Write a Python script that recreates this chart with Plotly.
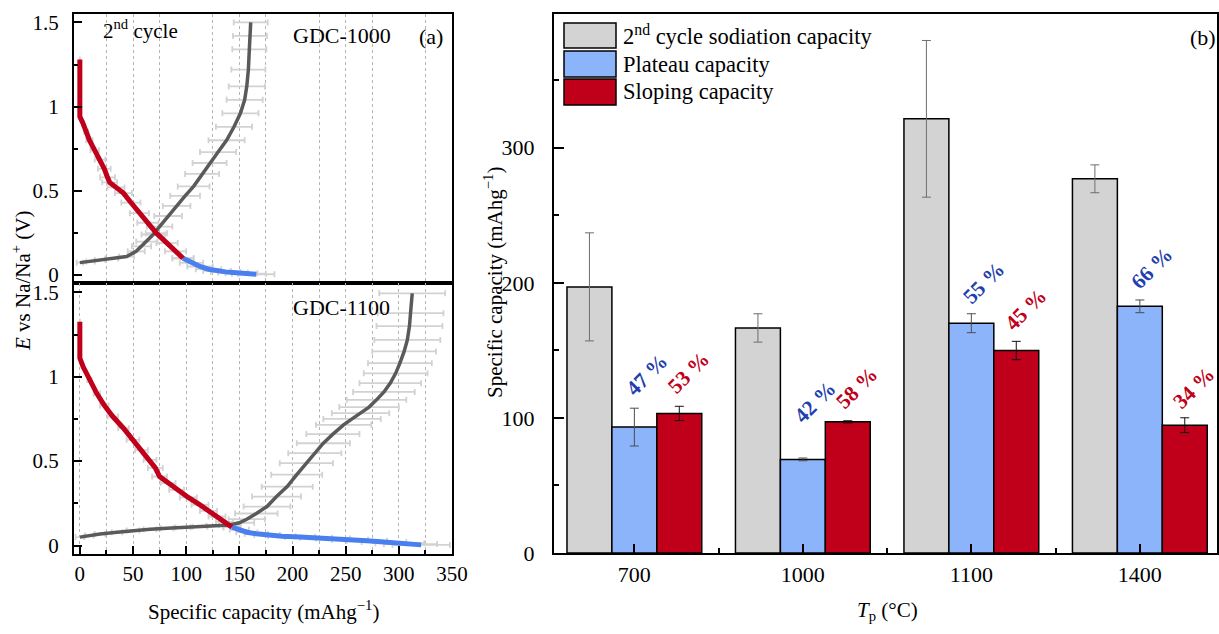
import plotly.graph_objects as go

# ---------------- data: (a) galvanostatic profiles, 2nd cycle ----------------
# GDC-1000, discharge: sloping region (red) and plateau region (blue)
gdc1000_slope_cap = [0, 0, 0, 3, 6, 9, 14, 19, 23, 26, 28, 34, 41, 48, 56, 64, 72, 82, 90, 97]
gdc1000_slope_v = [1.28, 1.10, 0.94, 0.90, 0.85, 0.80, 0.74, 0.685, 0.63, 0.58, 0.55, 0.52,
                   0.486, 0.43, 0.367, 0.31, 0.248, 0.189, 0.14, 0.099]
gdc1000_slope_err = [0, 0, 0, 1, 2, 3, 4, 5, 6, 7, 7, 8, 8, 9, 9, 10, 10, 10, 10, 10]
gdc1000_plat_cap = [97, 105, 113, 121, 129, 137, 144, 152, 159, 166]
gdc1000_plat_v = [0.099, 0.072, 0.05, 0.034, 0.024, 0.018, 0.014, 0.010, 0.007, 0.004]
gdc1000_plat_err = [10, 11, 12, 12, 13, 14, 14, 15, 16, 17]
# GDC-1000, charge
gdc1000_chg_cap = [0, 10, 19, 30, 44, 53, 58, 63, 69, 75, 83, 91, 99, 107, 115, 122, 130,
                   138, 145, 151, 155, 157, 158.5, 159.4, 160, 160.7]
gdc1000_chg_v = [0.073, 0.08, 0.089, 0.098, 0.109, 0.14, 0.17, 0.198, 0.24, 0.287, 0.35, 0.41,
                 0.47, 0.526, 0.6, 0.665, 0.73, 0.80, 0.88, 0.96, 1.04, 1.12, 1.22, 1.34, 1.42, 1.5]
gdc1000_chg_err = [3, 4, 5, 6, 7, 8, 9, 10, 11, 12, 13, 13, 14, 15, 16, 16, 17, 17, 17, 17,
                   17, 17, 16, 16, 16, 16]

# GDC-1100, discharge
gdc1100_slope_cap = [0, 0, 0, 3, 9, 16, 23, 31, 41, 50, 58, 66, 71, 75, 83, 91, 102, 113,
                     121, 129, 136, 143]
gdc1100_slope_v = [1.326, 1.2, 1.11, 1.06, 0.98, 0.90, 0.83, 0.764, 0.695, 0.626, 0.565, 0.507,
                   0.46, 0.409, 0.37, 0.33, 0.285, 0.241, 0.205, 0.172, 0.14, 0.109]
gdc1100_slope_err = [0, 0, 0, 1, 2, 3, 4, 5, 5, 6, 6, 6, 7, 7, 7, 7, 8, 8, 8, 8, 8, 8]
gdc1100_plat_cap = [143, 150, 157, 166, 176, 190, 207, 222, 238, 254, 270, 286, 301, 311, 321]
gdc1100_plat_v = [0.109, 0.093, 0.079, 0.07, 0.062, 0.055, 0.05, 0.046, 0.042, 0.035, 0.028,
                  0.021, 0.014, 0.009, 0.004]
gdc1100_plat_err = [8, 9, 10, 11, 12, 13, 14, 15, 16, 17, 19, 21, 23, 25, 27]
# GDC-1100, charge
gdc1100_chg_cap = [0, 9, 19, 35, 50, 66, 82, 97, 113, 127, 141, 150, 157, 166, 176, 185, 195,
                   204, 213, 221, 229, 238, 248, 256, 264, 272, 279, 286, 292, 297, 301, 305,
                   308, 310, 311, 312.6]
gdc1100_chg_v = [0.05, 0.06, 0.069, 0.079, 0.089, 0.096, 0.103, 0.108, 0.112, 0.117, 0.122,
                 0.135, 0.156, 0.19, 0.231, 0.29, 0.349, 0.42, 0.488, 0.547, 0.606, 0.66,
                 0.715, 0.75, 0.784, 0.82, 0.863, 0.91, 0.962, 1.02, 1.08, 1.15, 1.218, 1.3,
                 1.376, 1.494]
gdc1100_chg_err = [4, 4, 5, 5, 6, 6, 6, 7, 7, 8, 10, 14, 17, 20, 22, 23, 24, 24, 25, 25, 25,
                   25, 26, 27, 27, 28, 28, 29, 29, 30, 30, 30, 31, 31, 31, 31]

# ---------------- data: (b) capacities vs. pyrolysis temperature ----------------
categories = ["700", "1000", "1100", "1400"]
total_cap = [197, 166.6, 321.4, 277]
total_err = [40, 10.5, 58, 10.3]
plateau_cap = [93.2, 69.3, 170.1, 182.6]
plateau_err = [14, 1, 7, 4.7]
sloping_cap = [103.3, 97.1, 149.9, 94.6]
sloping_err = [5.3, 0.8, 6.8, 5.5]
plateau_pct = [47, 42, 55, 66]
sloping_pct = [53, 58, 45, 34]

# ---------------- styling ----------------
FONT = "Liberation Serif, Times New Roman, serif"
RED = "#c0001a"
BLUE = "#4a7ff0"
DARK = "#5a5a5a"
ERRC = "#d2d2d2"
W, H = 1219, 634


def px_x(p):
    return p / W


def px_y(p):
    return 1 - p / H


fig = go.Figure()


def err_trace(cap, v, err, xa, ya):
    return go.Scatter(
        x=cap, y=v, mode="lines", line=dict(color="rgba(0,0,0,0)", width=0),
        error_x=dict(type="data", array=err, color=ERRC, thickness=1.8, width=3),
        xaxis=xa, yaxis=ya, showlegend=False, hoverinfo="skip")


def line_trace(cap, v, color, width, xa, ya):
    return go.Scatter(x=cap, y=v, mode="lines", line=dict(color=color, width=width),
                      xaxis=xa, yaxis=ya, showlegend=False)


panels = [
    ("x", "y", gdc1000_slope_cap, gdc1000_slope_v, gdc1000_slope_err,
     gdc1000_plat_cap, gdc1000_plat_v, gdc1000_plat_err,
     gdc1000_chg_cap, gdc1000_chg_v, gdc1000_chg_err),
    ("x2", "y2", gdc1100_slope_cap, gdc1100_slope_v, gdc1100_slope_err,
     gdc1100_plat_cap, gdc1100_plat_v, gdc1100_plat_err,
     gdc1100_chg_cap, gdc1100_chg_v, gdc1100_chg_err),
]
for xa, ya, sc, sv, se, pc, pv, pe, cc, cv, ce in panels:
    fig.add_trace(err_trace(cc, cv, ce, xa, ya))
    fig.add_trace(err_trace(sc, sv, se, xa, ya))
    fig.add_trace(err_trace(pc, pv, pe, xa, ya))
for xa, ya, sc, sv, se, pc, pv, pe, cc, cv, ce in panels:
    fig.add_trace(line_trace(cc, cv, DARK, 3.5, xa, ya))
    fig.add_trace(line_trace(pc, pv, BLUE, 5, xa, ya))
    fig.add_trace(line_trace(sc, sv, RED, 5, xa, ya))

# bar chart
xpos = list(range(len(categories)))
bar_specs = [
    ("2nd cycle sodiation capacity", total_cap, total_err, "#d3d3d3", "#6e6e6e"),
    ("Plateau capacity", plateau_cap, plateau_err, "#8cb4fa", "#4d4d4d"),
    ("Sloping capacity", sloping_cap, sloping_err, RED, "#111111"),
]
for name, vals, errs, color, ecol in bar_specs:
    fig.add_trace(go.Bar(
        x=xpos, y=vals, name=name, marker=dict(color=color, line=dict(color="black", width=1.5)),
        error_y=dict(type="data", array=errs, color=ecol, thickness=1, width=4.5),
        xaxis="x3", yaxis="y3", showlegend=False))

# ---------------- axes ----------------
LEFT_DOM = [px_x(74), px_x(452)]
axis_common = dict(showline=True, linecolor="black", linewidth=2, mirror=True,
                   zeroline=False, showgrid=False, automargin=False)
tick_left = dict(family=FONT, size=21, color="black")
tick_right = dict(family=FONT, size=22, color="black")
cap_minor = dict(dtick=25, tick0=0, showgrid=True, griddash="dot", gridcolor="#b5b5b5",
                 gridwidth=1, ticks="inside", ticklen=4, tickcolor="black")
v_axis = dict(tickvals=[0, 0.5, 1, 1.5], ticktext=["0", "0.5", "1", "1.5"],
              ticks="inside", ticklen=8, tickwidth=1.5, tickcolor="black",
              minor=dict(dtick=0.25, tick0=0, ticks="inside", ticklen=4, tickcolor="black"),
              ticklabelstandoff=9, tickfont=tick_left)

fig.update_layout(
    width=W, height=H, margin=dict(l=0, r=0, t=0, b=0, autoexpand=False),
    paper_bgcolor="white", plot_bgcolor="white",
    barmode="group", bargap=0.2, bargroupgap=0,
    font=dict(family=FONT, color="black"),
    xaxis=dict(domain=LEFT_DOM, anchor="y", range=[-5.5, 350], showticklabels=False,
               ticks="", minor=dict(cap_minor, ticks=""), **axis_common),
    yaxis=dict(domain=[px_y(283), px_y(14)], anchor="x", range=[-0.048, 1.55],
               **v_axis, **axis_common),
    xaxis2=dict(domain=LEFT_DOM, anchor="y2", range=[-5.5, 350],
                tickvals=list(range(0, 351, 50)), ticks="inside", ticklen=8, tickwidth=1.5,
                tickcolor="black", minor=cap_minor, ticklabelstandoff=0, tickfont=tick_left,
                **axis_common),
    yaxis2=dict(domain=[px_y(554), px_y(283)], anchor="x2", range=[-0.05, 1.555],
                **v_axis, **axis_common),
    xaxis3=dict(domain=[px_x(554), px_x(1217)], anchor="y3", range=[-0.477, 3.458],
                tickvals=xpos, ticktext=categories, ticks="inside", ticklen=9, tickwidth=2,
                tickcolor="black",
                minor=dict(tickvals=[0.5, 1.5, 2.5], ticks="inside", ticklen=5,
                           tickcolor="black"),
                ticklabelstandoff=1, tickfont=tick_right, **axis_common),
    yaxis3=dict(domain=[px_y(553), px_y(14)], anchor="x3", range=[0, 399],
                tickvals=[0, 100, 200, 300], ticks="inside", ticklen=10, tickwidth=2,
                tickcolor="black",
                minor=dict(tickvals=[50, 150, 250, 350], ticks="inside", ticklen=5,
                           tickcolor="black"),
                ticklabelstandoff=13, tickfont=tick_right, **axis_common),
)

# ---------------- text ----------------
def note(text, x, y, size=22, xanchor="center", **kw):
    fig.add_annotation(text=text, x=px_x(x), y=px_y(y), xref="paper", yref="paper",
                       xanchor=xanchor, yanchor="middle", showarrow=False,
                       font=dict(family=FONT, size=size, color="black"), **kw)


note("2<sup>nd</sup> cycle", 140, 29, size=21)
note("GDC-1000", 342, 36)
note("(a)", 431, 37)
note("GDC-1100", 341, 307)
note("(b)", 1203, 38)
note("<i>E</i> vs Na/Na<sup>+</sup> (V)", 21, 281, size=21, textangle=-90)
note("Specific capacity (mAhg<sup>\u22121</sup>)", 263, 610, size=21)
note("Specific capacity (mAhg<sup>\u22121</sup>)", 493, 283, size=21, textangle=-90)
note("<i>T</i><sub>p</sub> (\u00b0C)", 887, 611, size=21)

# legend drawn as framed swatches with labels
legend_rows = [("2<sup>nd</sup> cycle sodiation capacity", "#d3d3d3", 23, 48),
               ("Plateau capacity", "#8cb4fa", 51, 77),
               ("Sloping capacity", RED, 79, 105)]
for label, color, y0, y1 in legend_rows:
    fig.add_shape(type="rect", xref="paper", yref="paper",
                  x0=px_x(564), x1=px_x(616), y0=px_y(y1), y1=px_y(y0),
                  fillcolor=color, line=dict(color="black", width=1.5))
    note(label, 621, (y0 + y1) / 2, size=22.5, xanchor="left")

# percentage shares above the plateau / sloping bars
plateau_label_y = [131.6, 111.6, 199.6, 210.7]
sloping_label_y = [133, 122, 179.7, 122]
bar_w = 0.8 / 3
for i in xpos:
    fig.add_annotation(text=f"<b>{plateau_pct[i]} %</b>", x=i + 0.075, y=plateau_label_y[i],
                       xref="x3", yref="y3", showarrow=False, textangle=-45,
                       font=dict(family=FONT, size=21.5, color="#1f3fb0"))
    fig.add_annotation(text=f"<b>{sloping_pct[i]} %</b>", x=i + bar_w + 0.055,
                       y=sloping_label_y[i], xref="x3", yref="y3", showarrow=False,
                       textangle=-45, font=dict(family=FONT, size=21.5, color=RED))

fig.write_html("out.html")
